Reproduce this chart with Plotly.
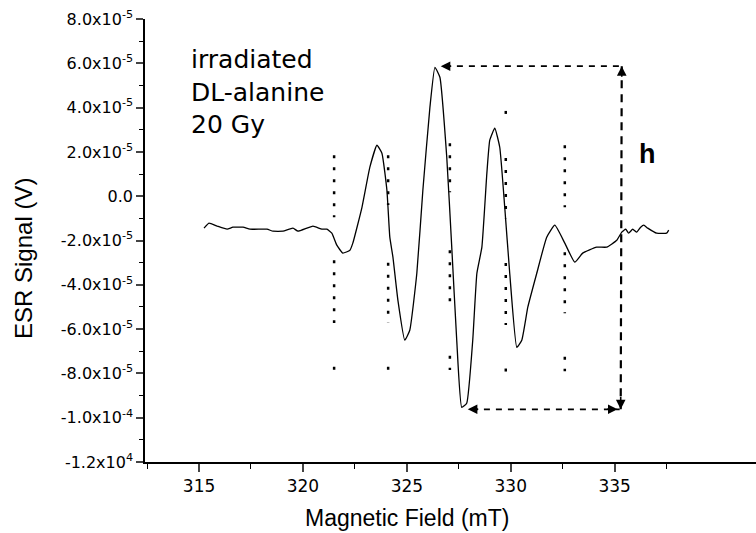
import plotly.graph_objects as go

# ESR spectrum of irradiated DL-alanine (field in mT, signal in 1e-5 V)
field_mT = [315.24, 315.48, 315.87, 316.35, 316.63, 317.12, 317.45, 318.27, 318.56,
            319.04, 319.52, 319.76, 320.48, 320.91, 321.15, 321.39, 321.63, 321.92,
            322.26, 322.40, 322.84, 323.22, 323.56, 323.80, 324.04, 324.18, 324.33,
            324.57, 324.90, 325.14, 325.48, 325.77, 326.11, 326.35, 326.59, 326.92,
            327.16, 327.40, 327.64, 327.88, 328.17, 328.37, 328.61, 328.85, 328.99,
            329.23, 329.47, 329.71, 329.95, 330.29, 330.53, 330.82, 331.25, 331.73,
            332.12, 332.60, 333.08, 333.46, 334.13, 334.62, 335.10, 335.34, 335.53,
            335.67, 335.87, 336.06, 336.25, 336.40, 336.59, 337.02, 337.50, 337.60]
signal_e5 = [-1.44, -1.22, -1.35, -1.49, -1.40, -1.40, -1.49, -1.49, -1.58,
             -1.58, -1.44, -1.58, -1.35, -1.49, -1.49, -1.67, -2.21, -2.57,
             -2.44, -2.12, -0.50, 1.31, 2.30, 1.94, 0.27, -1.85, -2.75,
             -4.70, -6.50, -6.05, -3.48, 0.27, 4.02, 5.82, 5.37, 1.76,
             -2.30, -6.50, -9.53, -9.35, -6.50, -3.48, -2.30, 1.04, 2.53,
             3.07, 2.21, -0.50, -3.48, -6.82, -6.50, -5.01, -3.48, -1.85,
             -1.31, -2.12, -2.98, -2.57, -2.30, -2.30, -1.99, -1.62, -1.49,
             -1.67, -1.49, -1.62, -1.40, -1.31, -1.44, -1.67, -1.67, -1.53]

# dotted marker lines: x position and (y0, y1) segments in 1e-5 V
marker_x = [321.5, 324.1, 327.07, 329.76, 332.6]
marker_segments = [
    [(1.85, -0.95), (-2.89, -5.73), (-7.70, -7.85)],
    [(1.85, -0.40), (-3.00, -5.73), (-7.70, -7.85)],
    [(2.39, 0.18), (-2.44, -5.15), (-7.20, -7.85)],
    [(3.85, 3.70), (1.72, -0.99), (-3.02, -5.82), (-7.78, -7.93)],
    [(2.30, -0.50), (-2.53, -5.28), (-7.25, -7.90)],
]

# peak-to-peak box (h)
box_top_x = [326.63, 335.34]
box_bottom_x = [327.93, 335.24]
box_top_y = 5.87
box_bottom_y = -9.62

y_ticks = [8, 6, 4, 2, 0, -2, -4, -6, -8, -10, -12]
y_labels = ["8.0x10<sup>-5</sup>", "6.0x10<sup>-5</sup>", "4.0x10<sup>-5</sup>",
            "2.0x10<sup>-5</sup>", "0.0", "-2.0x10<sup>-5</sup>", "-4.0x10<sup>-5</sup>",
            "-6.0x10<sup>-5</sup>", "-8.0x10<sup>-5</sup>", "-1.0x10<sup>-4</sup>",
            "-1.2x10<sup>4</sup>"]
x_ticks = [315, 320, 325, 330, 335]

e5 = 1e-5

fig = go.Figure()
fig.add_trace(go.Scatter(
    x=field_mT,
    y=[v * e5 for v in signal_e5],
    mode="lines",
    line=dict(color="black", width=1.3, shape="spline", smoothing=0.4),
    showlegend=False,
))

for xm, segs in zip(marker_x, marker_segments):
    for y0, y1 in segs:
        fig.add_shape(type="line", x0=xm, x1=xm, y0=y0 * e5, y1=y1 * e5,
                      line=dict(color="black", width=2.5, dash="3px,9px"))

# dashed box lines
dash_box = dict(color="black", width=1.8, dash="6px,6px")
fig.add_shape(type="line", x0=box_top_x[0] + 0.2, x1=box_top_x[1],
              y0=box_top_y * e5, y1=box_top_y * e5, line=dash_box)
fig.add_shape(type="line", x0=box_bottom_x[0] + 0.2, x1=box_bottom_x[1],
              y0=box_bottom_y * e5, y1=box_bottom_y * e5, line=dash_box)
fig.add_shape(type="line", x0=box_top_x[1], x1=box_bottom_x[1] + 0.05,
              y0=box_top_y * e5, y1=box_bottom_y * e5,
              line=dict(color="black", width=2.2, dash="8px,6px"))

# arrow heads
arrow = dict(showarrow=True, arrowhead=2, arrowsize=1.2, arrowwidth=1.6,
             arrowcolor="black", text="", axref="pixel", ayref="pixel")
fig.add_annotation(x=box_top_x[0], y=box_top_y * e5, ax=12, ay=0, **arrow)
fig.add_annotation(x=box_bottom_x[0], y=box_bottom_y * e5, ax=12, ay=0, **arrow)
fig.add_annotation(x=box_bottom_x[1] - 0.1, y=box_bottom_y * e5, ax=-12, ay=0, **arrow)
fig.add_annotation(x=box_top_x[1], y=box_top_y * e5, ax=0, ay=12, **arrow)
fig.add_annotation(x=box_bottom_x[1] + 0.05, y=box_bottom_y * e5, ax=0, ay=-14, **arrow)

fig.add_annotation(x=box_top_x[1] + 0.75, y=1.9 * e5, text="<b>h</b>", showarrow=False,
                   xanchor="left", yanchor="middle",
                   font=dict(size=27, color="black", family="Arial"))

fig.add_annotation(x=0.072, y=0.945, xref="paper", yref="paper",
                   text="irradiated<br>DL-alanine<br>20 Gy", showarrow=False,
                   xanchor="left", yanchor="top", align="left",
                   font=dict(size=25, color="black", family="DejaVu Sans"))

# axis titles placed as annotations to match the original positions
fig.add_annotation(x=0.429, y=-0.126, xref="paper", yref="paper",
                   text="Magnetic Field (mT)", showarrow=False,
                   xanchor="center", yanchor="middle",
                   font=dict(size=23, color="black", family="Arial"))
fig.add_annotation(x=-0.2, y=0.46, xref="paper", yref="paper",
                   text="ESR Signal (V)", showarrow=False, textangle=-90,
                   xanchor="center", yanchor="middle",
                   font=dict(size=24, color="black", family="Arial"))

fig.update_layout(
    width=756,
    height=533,
    margin=dict(l=145, r=0, t=19, b=71),
    plot_bgcolor="white",
    paper_bgcolor="white",
    font=dict(family="Arial", color="black"),
    xaxis=dict(
        range=[312.4, 341.8],
        automargin=False,
        tickmode="array",
        tickvals=x_ticks,
        ticks="outside",
        ticklen=8,
        tickwidth=1.5,
        showgrid=False,
        zeroline=False,
        showline=True,
        linecolor="black",
        linewidth=1.5,
        tickfont=dict(size=17, family="DejaVu Sans"),
        minor=dict(tickmode="array", tickvals=[312.5, 317.5, 322.5, 327.5, 332.5, 337.5],
                   ticks="outside", ticklen=5, tickwidth=1.3, tickcolor="black"),
    ),
    yaxis=dict(
        range=[-12e-5, 8e-5],
        automargin=False,
        tickmode="array",
        tickvals=[v * e5 for v in y_ticks],
        ticktext=y_labels,
        ticks="outside",
        ticklen=7,
        tickwidth=1.5,
        showgrid=False,
        zeroline=False,
        showline=True,
        linecolor="black",
        linewidth=1.5,
        tickfont=dict(size=16, family="DejaVu Sans"),
        minor=dict(tickmode="array", tickvals=[v * e5 for v in [7, 5, 3, 1, -1, -3, -5, -7, -9, -11]],
                   ticks="outside", ticklen=4, tickwidth=1.3, tickcolor="black"),
    ),
)

# remove the default page margin so the figure sits at the window corner
fig.write_html("out.html", config={"displayModeBar": False},
               post_script="document.body.style.margin='0';document.body.style.overflow='hidden';")
